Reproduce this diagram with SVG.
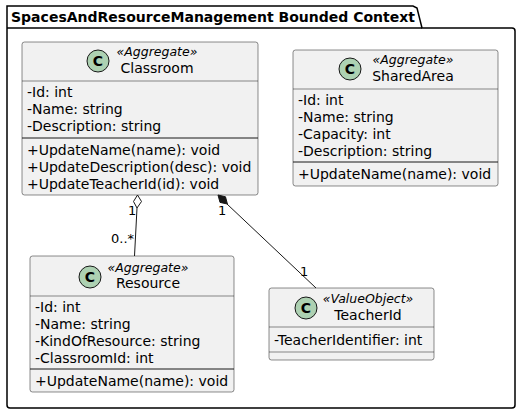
<svg xmlns="http://www.w3.org/2000/svg" width="521" height="414" viewBox="0 0 521 414">
<style>
text{font-family:"DejaVu Sans",sans-serif;fill:#000}
.box{fill:#F1F1F1;stroke:#181818;stroke-width:0.5}
.sep{stroke:#181818;stroke-width:1}
.sep2{stroke:#181818;stroke-width:0.5}
.circ{fill:#ADD1B2;stroke:#181818;stroke-width:1}
.cl{font-size:14px;font-weight:bold;text-anchor:middle}
.st{font-size:12.5px;font-style:italic;text-anchor:middle}
.nm{font-size:14px;text-anchor:middle}
.at{font-size:14px}
.lb{font-size:13px}
.edge{stroke:#181818;stroke-width:1;fill:none}
</style>
<g id="package">
<path d="M7,28 L7,6 L413,6 L417,8 L422,28 L512,28 Q515,28 515,31 L515,405 Q515,408 512,408 L10,408 Q7,408 7,405 Z" fill="none" stroke="#000" stroke-width="1.5"/>
<line x1="7" y1="28" x2="422" y2="28" stroke="#000" stroke-width="1.5"/>
<text x="11" y="22" font-size="14" font-weight="bold" textLength="404" lengthAdjust="spacingAndGlyphs">SpacesAndResourceManagement Bounded Context</text>
</g>
<g id="Classroom">
<rect class="box" x="22" y="42" width="236" height="153" rx="2.5"/>
<circle class="circ" cx="98" cy="61" r="11"/>
<text class="cl" x="98" y="66">C</text>
<text class="st" x="157" y="56">«Aggregate»</text>
<text class="nm" x="157" y="73">Classroom</text>
<line class="sep2" x1="22" y1="81" x2="258" y2="81"/>
<text class="at" x="27" y="97">-Id: int</text>
<text class="at" x="27" y="114">-Name: string</text>
<text class="at" x="27" y="131">-Description: string</text>
<line class="sep" x1="22" y1="138" x2="258" y2="138"/>
<text class="at" x="27" y="155">+UpdateName(name): void</text>
<text class="at" x="27" y="172">+UpdateDescription(desc): void</text>
<text class="at" x="27" y="189">+UpdateTeacherId(id): void</text>
</g>
<g id="SharedArea">
<rect class="box" x="293" y="50" width="205" height="136" rx="2.5"/>
<circle class="circ" cx="350" cy="69" r="11"/>
<text class="cl" x="350" y="74">C</text>
<text class="st" x="413" y="64">«Aggregate»</text>
<text class="nm" x="413" y="81">SharedArea</text>
<line class="sep2" x1="293" y1="89" x2="498" y2="89"/>
<text class="at" x="298" y="105">-Id: int</text>
<text class="at" x="298" y="122">-Name: string</text>
<text class="at" x="298" y="139">-Capacity: int</text>
<text class="at" x="298" y="156">-Description: string</text>
<line class="sep" x1="293" y1="162" x2="498" y2="162"/>
<text class="at" x="298" y="179">+UpdateName(name): void</text>
</g>
<g id="Resource">
<rect class="box" x="30" y="256" width="204" height="136" rx="2.5"/>
<circle class="circ" cx="90" cy="277" r="11"/>
<text class="cl" x="90" y="282">C</text>
<text class="st" x="148" y="272">«Aggregate»</text>
<text class="nm" x="148" y="288">Resource</text>
<line class="sep2" x1="30" y1="296" x2="234" y2="296"/>
<text class="at" x="35" y="312">-Id: int</text>
<text class="at" x="35" y="329">-Name: string</text>
<text class="at" x="35" y="346">-KindOfResource: string</text>
<text class="at" x="35" y="363">-ClassroomId: int</text>
<line class="sep" x1="30" y1="369" x2="234" y2="369"/>
<text class="at" x="35" y="386">+UpdateName(name): void</text>
</g>
<g id="TeacherId">
<rect class="box" x="269" y="288" width="165" height="72" rx="2.5"/>
<circle class="circ" cx="306" cy="308" r="11"/>
<text class="cl" x="306" y="313">C</text>
<text class="st" x="368" y="303">«ValueObject»</text>
<text class="nm" x="368" y="320">TeacherId</text>
<line class="sep2" x1="269" y1="327" x2="434" y2="327"/>
<text class="at" x="274" y="345">-TeacherIdentifier: int</text>
<line class="sep2" x1="269" y1="352" x2="434" y2="352"/>
</g>
<g id="connectors">
<path class="edge" d="M137,208 L134.5,256"/>
<polygon points="137.5,195 141.5,201.5 137,208 133.5,201.5" fill="#fff" stroke="#181818" stroke-width="1"/>
<text class="lb" x="128" y="215">1</text>
<text class="lb" x="111" y="243">0..*</text>
<path class="edge" d="M227,204 L316,288"/>
<polygon points="218,195 225.5,196.8 227.4,204 220,202.4" fill="#181818" stroke="#181818" stroke-width="1"/>
<text class="lb" x="218" y="215">1</text>
<text class="lb" x="300" y="276">1</text>
</g>
</svg>
